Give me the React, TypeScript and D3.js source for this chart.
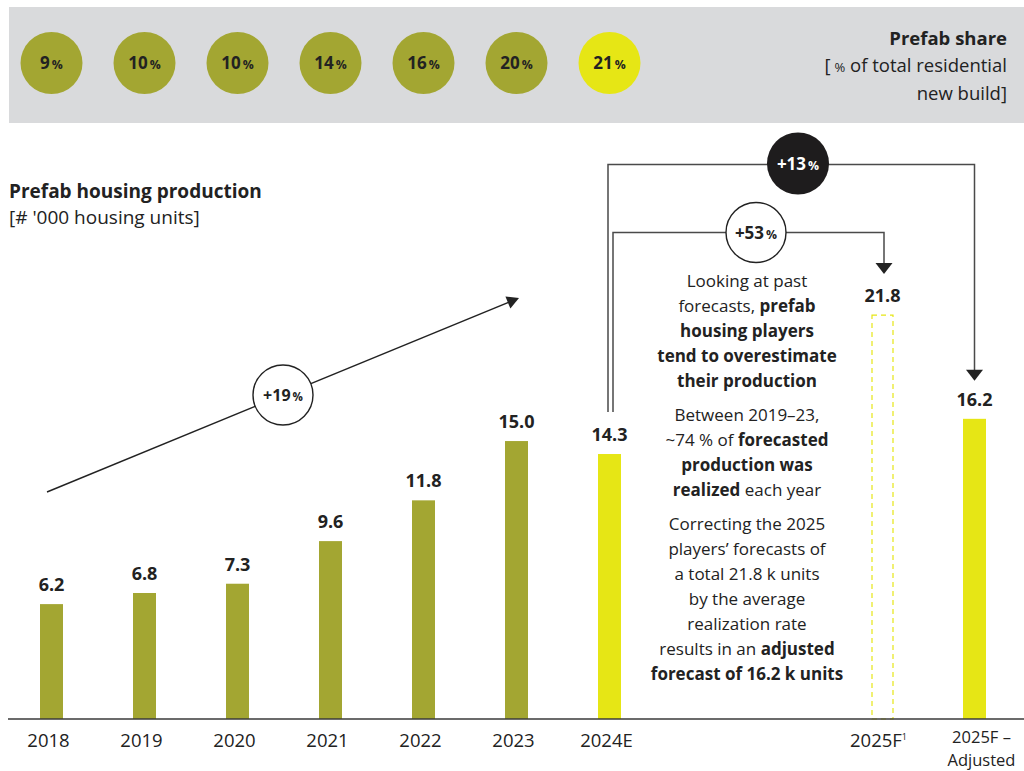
import React from "react";
import * as d3 from "d3";

const years = ["2018", "2019", "2020", "2021", "2022", "2023", "2024E"];
const production = [6.2, 6.8, 7.3, 9.6, 11.8, 15.0, 14.3];
const shareLabels = ["9", "10", "10", "14", "16", "20", "21"];
const forecastCats = ["2025F", "2025F – Adjusted"];
const forecastValues = [21.8, 16.2];
const growthLabels = ["+19", "+53", "+13"];

const OLIVE = "#a3a632";
const YELLOW = "#e6e615";
const INK = "#222222";
const LINE = "#4a4a4a";
const FONT = "'Open Sans', Lato, sans-serif";

const W = 1024;
const H = 771;
const BASE = 719;

const x = d3.scalePoint<string>().domain(years).range([5, 656]).padding(0.5);
const xf = d3.scalePoint<string>().domain(forecastCats).range([836.5, 1020.5]).padding(0.5);
const y = d3.scaleLinear().domain([0, 22]).range([BASE, BASE - 22 * 18.53]);

const BW = 23;

function Pct({ v, size = 17 }: { v: string; size?: number }) {
  return (
    <>
      <tspan>{v}</tspan>
      <tspan fontSize={size * 0.72} dx={2}>%</tspan>
    </>
  );
}

function arrowHead(tx: number, ty: number, angle: number, len = 11, half = 8.5) {
  const ca = Math.cos(angle), sa = Math.sin(angle);
  const bx = tx - ca * len, by = ty - sa * len;
  const px = -sa * half, py = ca * half;
  return `${tx},${ty} ${bx + px},${by + py} ${bx - px},${by - py}`;
}

type Run = { t: string; b?: boolean };
const noteLines: Run[][] = [
  [{ t: "Looking at past" }],
  [{ t: "forecasts, " }, { t: "prefab", b: true }],
  [{ t: "housing players", b: true }],
  [{ t: "tend to overestimate", b: true }],
  [{ t: "their production", b: true }],
  [],
  [{ t: "Between 2019–23," }],
  [{ t: "~74 % of " }, { t: "forecasted", b: true }],
  [{ t: "production was", b: true }],
  [{ t: "realized", b: true }, { t: " each year" }],
  [],
  [{ t: "Correcting the 2025" }],
  [{ t: "players’ forecasts of" }],
  [{ t: "a total 21.8 k units" }],
  [{ t: "by the average" }],
  [{ t: "realization rate" }],
  [{ t: "results in an " }, { t: "adjusted", b: true }],
  [{ t: "forecast of 16.2 k units", b: true }],
];

export default function App() {
  const x24 = x("2024E")!;
  const xF = xf("2025F")!;
  const xA = xf("2025F – Adjusted")!;
  const topY = 164.5;
  const innerY = 232.5;

  const noteX = 747;
  let ny = 287;
  const noteRows: { y: number; runs: Run[] }[] = [];
  noteLines.forEach((l) => {
    if (l.length === 0) {
      ny += 9;
    } else {
      noteRows.push({ y: ny, runs: l });
      ny += 25;
    }
  });

  const a0 = [47, 492];
  const a1 = [519, 298];
  const ang = Math.atan2(a1[1] - a0[1], a1[0] - a0[0]);
  const c19 = [283, 395];

  return (
    <svg
      width={W}
      height={H}
      style={{ position: "absolute", left: 0, top: 0 }}
      fontFamily={FONT}
    >
      <rect width={W} height={H} fill="#ffffff" />
      <rect x={9} y={7} width={W - 9} height={116} fill="#d9dadc" />
      {shareLabels.map((s, i) => (
        <g key={"c" + i}>
          <circle cx={x(years[i])!} cy={63} r={31} fill={i === 6 ? YELLOW : OLIVE} />
          <text
            x={x(years[i])!}
            y={69}
            textAnchor="middle"
            fontWeight={700}
            fontSize={17}
            fill={INK}
          >
            <Pct v={s} />
          </text>
        </g>
      ))}
      <text x={1007} y={45} textAnchor="end" fontWeight={700} fontSize={18.5} fill={INK}>
        Prefab share
      </text>
      <text x={1007} y={72} textAnchor="end" fontSize={18.5} fill={INK}>
        [<tspan fontSize={13} dx={4}>%</tspan> of total residential
      </text>
      <text x={1007} y={100} textAnchor="end" fontSize={18.5} fill={INK}>
        new build]
      </text>

      <text x={9} y={198} fontWeight={700} fontSize={19} fill={INK}>
        Prefab housing production
      </text>
      <text x={9} y={224} fontSize={19} fill={INK}>
        [# '000 housing units]
      </text>

      {years.map((yr, i) => (
        <g key={yr}>
          <rect
            x={x(yr)! - BW / 2}
            y={y(production[i])}
            width={BW}
            height={BASE - y(production[i])}
            fill={i === 6 ? YELLOW : OLIVE}
          />
          <text
            x={x(yr)!}
            y={y(production[i]) - 13}
            textAnchor="middle"
            fontWeight={700}
            fontSize={18}
            fill={INK}
          >
            {production[i].toFixed(1)}
          </text>
          <text x={x(yr)! - 3} y={747} textAnchor="middle" fontSize={18.5} fill={INK}>
            {yr}
          </text>
        </g>
      ))}

      <rect
        x={xF - 10.5}
        y={y(forecastValues[0])}
        width={21}
        height={BASE - y(forecastValues[0])}
        fill="none"
        stroke={YELLOW}
        strokeWidth={1.2}
        strokeDasharray="5 4"
      />
      <text x={xF} y={y(forecastValues[0]) - 13} textAnchor="middle" fontWeight={700} fontSize={18} fill={INK}>
        {forecastValues[0].toFixed(1)}
      </text>
      <rect
        x={xA - BW / 2}
        y={y(forecastValues[1])}
        width={BW}
        height={BASE - y(forecastValues[1])}
        fill={YELLOW}
      />
      <text x={xA} y={y(forecastValues[1]) - 13} textAnchor="middle" fontWeight={700} fontSize={18} fill={INK}>
        {forecastValues[1].toFixed(1)}
      </text>
      <text x={xF - 4} y={747} textAnchor="middle" fontSize={18.5} fill={INK}>
        2025F<tspan fontSize={9} dy={-7}>1</tspan>
      </text>
      <text x={xA + 7} y={743} textAnchor="middle" fontSize={16.5} fill={INK}>
        2025F –
      </text>
      <text x={xA + 7} y={766} textAnchor="middle" fontSize={16.5} fill={INK}>
        Adjusted
      </text>

      <line x1={8} x2={W} y1={BASE} y2={BASE} stroke="#3a3a3a" strokeWidth={1.6} />

      <line x1={a0[0]} y1={a0[1]} x2={a1[0] - Math.cos(ang) * 8} y2={a1[1] - Math.sin(ang) * 8} stroke={INK} strokeWidth={1.4} />
      <polygon points={arrowHead(a1[0], a1[1], ang, 12, 6.5)} fill={INK} />
      <circle cx={c19[0]} cy={c19[1]} r={30} fill="#fff" stroke={INK} strokeWidth={1.4} />
      <text x={c19[0]} y={c19[1] + 6} textAnchor="middle" fontWeight={700} fontSize={16} fill={INK}>
        <Pct v={growthLabels[0]} size={16} />
      </text>

      <polyline
        points={`${x24 - 1.5},412 ${x24 - 1.5},${topY} ${xA},${topY} ${xA},${y(forecastValues[1]) - 48}`}
        fill="none"
        stroke={LINE}
        strokeWidth={1.5}
      />
      <polygon points={arrowHead(xA, y(forecastValues[1]) - 38, Math.PI / 2, 11, 8.5)} fill={INK} />
      <circle cx={798} cy={topY - 1} r={31} fill="#1e1c1d" />
      <text x={798} y={topY + 5} textAnchor="middle" fontWeight={700} fontSize={17} fill="#fff">
        <Pct v={growthLabels[2]} />
      </text>

      <polyline
        points={`${x24 + 3.5},412 ${x24 + 3.5},${innerY} ${xF + 1.5},${innerY} ${xF + 1.5},${y(forecastValues[0]) - 52}`}
        fill="none"
        stroke={LINE}
        strokeWidth={1.5}
      />
      <polygon points={arrowHead(xF + 1.5, y(forecastValues[0]) - 41, Math.PI / 2, 11, 8.5)} fill={INK} />
      <circle cx={756} cy={innerY} r={30} fill="#fff" stroke={INK} strokeWidth={1.4} />
      <text x={756} y={innerY + 6} textAnchor="middle" fontWeight={700} fontSize={17} fill={INK}>
        <Pct v={growthLabels[1]} />
      </text>

      {noteRows.map((r, i) => (
        <text key={"n" + i} x={noteX} y={r.y} textAnchor="middle" fontSize={17} fill={INK}>
          {r.runs.map((run, j) => (
            <tspan key={j} fontWeight={run.b ? 700 : 400}>
              {run.t}
            </tspan>
          ))}
        </text>
      ))}
    </svg>
  );
}
